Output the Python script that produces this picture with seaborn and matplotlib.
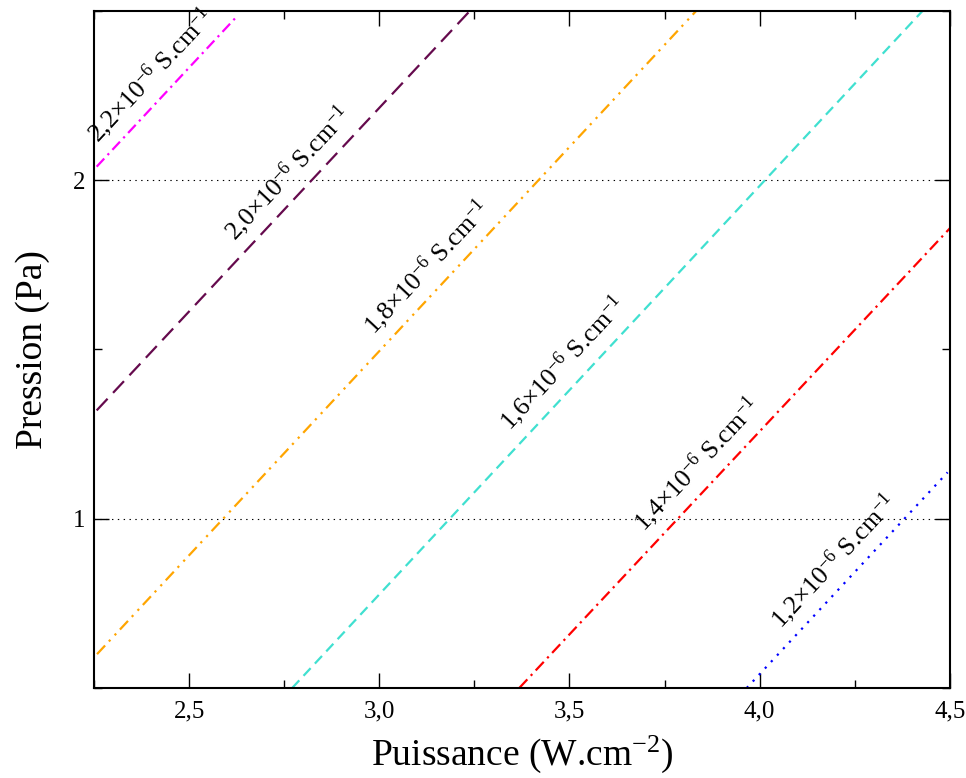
import numpy as np
import pandas as pd
import matplotlib
matplotlib.use('Agg')
import matplotlib.pyplot as plt
import seaborn as sns
from matplotlib.ticker import MultipleLocator, FuncFormatter

# iso-conductivity lines (x1e-6 S/cm), end points
sigma = ['1,2', '1,4', '1,6', '1,8', '2,0', '2,2']
colors = ['#0000ff', '#ff0000', '#40e0d0', '#ffa500', '#650a4d', '#ff00ff']
x_start = [3.966, 3.368, 2.771, 2.258, 2.257, 2.257]
y_start = [0.50, 0.50, 0.50, 0.60, 1.32, 2.04]
x_end = [4.494, 4.50, 4.428, 3.833, 3.238, 2.629]
y_end = [1.137, 1.858, 2.50, 2.50, 2.50, 2.488]
label_x = [4.239, 3.879, 3.527, 3.168, 2.802, 2.442]

# dash patterns in points (dotted, dash-dot, dashed, dash-dot-dot, long dash, dash-dot)
dashes = [(1.6, 4.8), (8.5, 3.6, 1.6, 3.6), (7.5, 4.5),
          (8.5, 4, 1.6, 4.5, 1.6, 4), (11.5, 5.8), (8, 3.5, 1.6, 3.5)]

sns.set_theme(style='ticks')
plt.rcParams['font.family'] = ['Liberation Serif', 'DejaVu Serif']
plt.rcParams['mathtext.fontset'] = 'custom'
plt.rcParams['mathtext.rm'] = 'Liberation Serif'
plt.rcParams['mathtext.default'] = 'regular'
plt.rcParams['lines.scale_dashes'] = False
plt.rcParams['axes.edgecolor'] = 'black'
plt.rcParams['axes.linewidth'] = 1.5
plt.rcParams['text.color'] = 'black'
plt.rcParams['axes.labelcolor'] = 'black'
plt.rcParams['xtick.labelcolor'] = 'black'
plt.rcParams['ytick.labelcolor'] = 'black'

fig = plt.figure(figsize=(9.66, 7.78), dpi=100)
ax = fig.add_axes([0.0973, 0.1157, 0.886, 0.8702])
ax.set_xlim(2.25, 4.5)
ax.set_ylim(0.5, 2.5)

for i in range(len(sigma)):
    df = pd.DataFrame({'P': [x_start[i], x_end[i]], 'p': [y_start[i], y_end[i]]})
    sns.lineplot(data=df, x='P', y='p', ax=ax, color=colors[i], lw=1.6, estimator=None, sort=False)
    ln = ax.lines[-1]
    ln.set_dashes(dashes[i])
    ln.set_dash_capstyle('butt')

ax.yaxis.grid(True, which='major', color='black', linestyle=(0, (1, 3.2)), lw=0.8)

# labels along the lines
for i in range(len(sigma)):
    p0 = ax.transData.transform((x_start[i], y_start[i]))
    p1 = ax.transData.transform((x_end[i], y_end[i]))
    ang = np.degrees(np.arctan2(p1[1] - p0[1], p1[0] - p0[0]))
    ly = np.interp(label_x[i], [x_start[i], x_end[i]], [y_start[i], y_end[i]])
    off = 16.5
    dx = -np.sin(np.radians(ang)) * off
    dy = np.cos(np.radians(ang)) * off
    ax.annotate(sigma[i] + '×10$^{-6}$ S.cm$^{-1}$', xy=(label_x[i], ly),
                xytext=(dx, dy), textcoords='offset points',
                rotation=ang, rotation_mode='anchor', ha='center', va='center',
                fontsize=18.5, color='black')

ax.xaxis.set_major_locator(MultipleLocator(0.5))
ax.xaxis.set_minor_locator(MultipleLocator(0.25))
ax.yaxis.set_major_locator(MultipleLocator(1))
ax.yaxis.set_minor_locator(MultipleLocator(0.5))
ax.xaxis.set_major_formatter(FuncFormatter(lambda v, p: f'{v:.1f}'.replace('.', ',')))
ax.yaxis.set_major_formatter(FuncFormatter(lambda v, p: f'{v:g}'))
ax.tick_params(which='both', direction='in', top=True, right=True, color='black', width=1)
ax.tick_params(which='major', length=11, labelsize=18)
ax.tick_params(which='minor', length=6)
ax.tick_params(axis='x', which='major', pad=9)
ax.tick_params(axis='y', which='major', pad=6)

ax.set_xlabel('Puissance (W.cm$^{-2}$)', fontsize=27, labelpad=8)
ax.set_ylabel('Pression (Pa)', fontsize=27, labelpad=17)

fig.savefig('out.png', dpi=100)
